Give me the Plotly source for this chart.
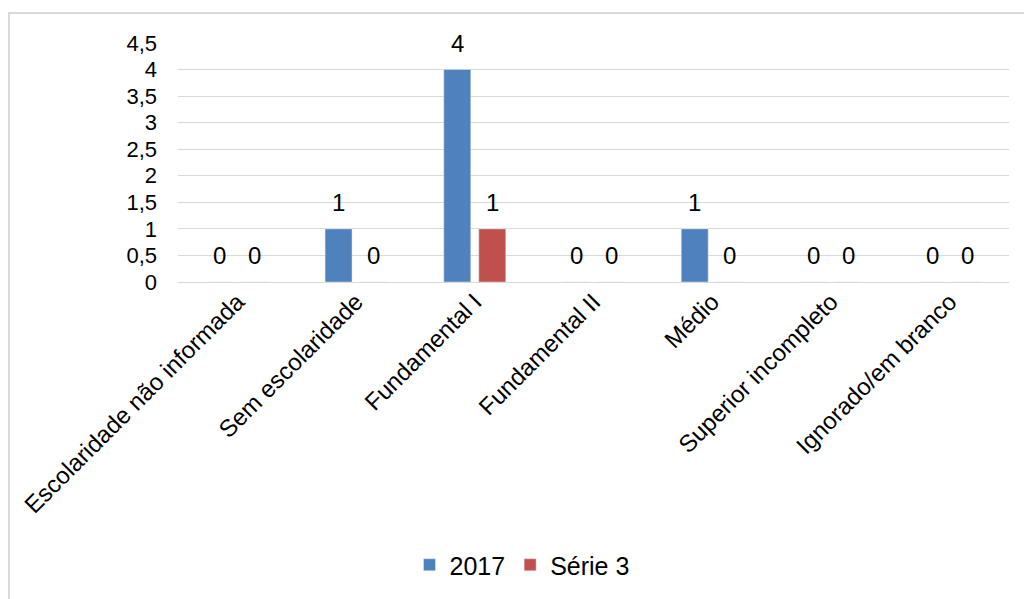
import plotly.graph_objects as go

categories = ["Escolaridade não informada", "Sem escolaridade", "Fundamental I",
              "Fundamental II", "Médio", "Superior incompleto", "Ignorado/em branco"]
series_2017 = [0, 1, 4, 0, 1, 0, 0]
series_s3 = [0, 0, 1, 0, 0, 0, 0]

FONT = "Liberation Sans, Arial, sans-serif"

fig = go.Figure()
fig.add_trace(go.Bar(name="2017", x=categories, y=series_2017, marker_color="#4f81bd",
                     cliponaxis=False))
fig.add_trace(go.Bar(name="Série 3", x=categories, y=series_s3, marker_color="#c0504d",
                     cliponaxis=False))

W, H = 1024, 599
L, R, T, B = 178, 15, 43, 317
pw, ph = W - L - R, H - T - B

def px(x):
    return (x - L) / pw

def py(y):
    return 1 - (y - T) / ph

annotations = []
for vals, shift in ((series_2017, -17.5), (series_s3, 17.5)):
    for c, v in zip(categories, vals):
        annotations.append(dict(x=c, y=v, xref="x", yref="y", text=str(v), showarrow=False,
                                xshift=shift, yshift=11, yanchor="bottom",
                                font=dict(size=24, color="#000000", family=FONT)))

fig.update_layout(
    width=W, height=H,
    margin=dict(l=L, r=R, t=T, b=B, autoexpand=False),
    paper_bgcolor="white", plot_bgcolor="white",
    barmode="group", bargap=0.41, bargroupgap=0.23,
    separators=",.",
    font=dict(family=FONT, color="#000000", size=22),
    showlegend=True,
    legend=dict(orientation="h", x=px(522), xanchor="center",
                y=py(565), yanchor="middle", font=dict(size=25), traceorder="normal",
                itemwidth=30),
    xaxis=dict(tickangle=-45, tickfont=dict(size=24), showgrid=False, showline=False,
               ticks=""),
    yaxis=dict(range=[0, 4.5], dtick=0.5, showgrid=True, gridcolor="#d9d9d9", gridwidth=1,
               zeroline=True, zerolinecolor="#d9d9d9", zerolinewidth=1,
               tickfont=dict(size=22), ticks="", showline=False, ticklabelstandoff=20),
    annotations=annotations,
    shapes=[dict(type="rect", xref="paper", yref="paper",
                 x0=px(9), y0=py(650), x1=px(1100), y1=py(13),
                 line=dict(color="#d9d9d9", width=2), fillcolor="rgba(0,0,0,0)", layer="below")],
)

fig.write_html("out.html")
